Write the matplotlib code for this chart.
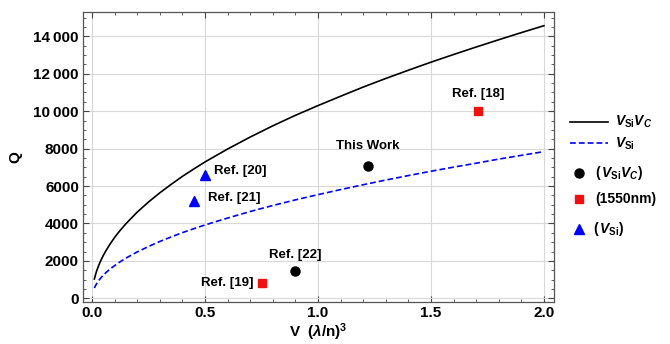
import matplotlib
matplotlib.use('Agg')
import matplotlib.pyplot as plt
from matplotlib.ticker import MultipleLocator, FuncFormatter
from matplotlib.lines import Line2D

plt.rcParams['font.family'] = ['Liberation Sans', 'DejaVu Sans']
plt.rcParams['mathtext.fontset'] = 'custom'
plt.rcParams['mathtext.rm'] = 'Liberation Sans:bold'
plt.rcParams['mathtext.it'] = 'Liberation Sans:bold:italic'
plt.rcParams['mathtext.bf'] = 'Liberation Sans:bold'

# curves
v_curve = [0.01, 0.015, 0.02, 0.03, 0.04, 0.05, 0.06, 0.08, 0.1, 0.12, 0.15,
           0.2, 0.25, 0.3, 0.35, 0.4, 0.45, 0.5, 0.6, 0.7, 0.8, 0.9, 1.0,
           1.1, 1.2, 1.3, 1.4, 1.5, 1.6, 1.7, 1.8, 1.9, 2.0]
q_si_c = [1030, 1260, 1460, 1780, 2060, 2300, 2520, 2910, 3260, 3570, 3990,
          4610, 5150, 5640, 6090, 6520, 6910, 7290, 7980, 8620, 9220, 9780, 10300,
          10800, 11290, 11750, 12190, 12620, 13030, 13430, 13820, 14200, 14570]
q_si = [550, 680, 780, 960, 1110, 1240, 1360, 1570, 1750, 1920, 2150,
        2480, 2770, 3040, 3280, 3510, 3720, 3920, 4290, 4640, 4960, 5260, 5540,
        5810, 6070, 6320, 6560, 6790, 7010, 7220, 7440, 7640, 7840]

# reported devices
circle_v = [1.22, 0.90]
circle_q = [7080, 1470]
circle_lab = ['This Work', 'Ref. [22]']
square_v = [1.71, 0.75]
square_q = [10030, 820]
square_lab = ['Ref. [18]', 'Ref. [19]']
tri_v = [0.50, 0.45]
tri_q = [6600, 5200]
tri_lab = ['Ref. [20]', 'Ref. [21]']

RED = '#f01010'
DASH = (3.5, 1.8)

fig = plt.figure(figsize=(6.7, 3.44), dpi=100)
ax = fig.add_axes([0.124, 0.122, 0.703, 0.843])

ax.plot(v_curve, q_si_c, color='black', lw=1.2)
ax.plot(v_curve, q_si, color='blue', lw=1.2, dashes=DASH)
ax.plot(circle_v, circle_q, 'o', color='black', ms=6.5, ls='none')
ax.plot(square_v, square_q, 's', color=RED, ms=6, ls='none')
ax.plot(tri_v, tri_q, '^', color='blue', ms=7, ls='none')

ann = dict(fontsize=9.5, fontweight='bold', textcoords='offset points')
ax.annotate(circle_lab[0], (circle_v[0], circle_q[0]), xytext=(0, 14.5), ha='center', va='center', **ann)
ax.annotate(circle_lab[1], (circle_v[1], circle_q[1]), xytext=(0, 11.5), ha='center', va='center', **ann)
ax.annotate(square_lab[0], (square_v[0], square_q[0]), xytext=(0, 12), ha='center', va='center', **ann)
ax.annotate(square_lab[1], (square_v[1], square_q[1]), xytext=(-5.5, 0), ha='right', va='center', **ann)
ax.annotate(tri_lab[0], (tri_v[0], tri_q[0]), xytext=(6.5, 3), ha='left', va='center', **ann)
ax.annotate(tri_lab[1], (tri_v[1], tri_q[1]), xytext=(10, 2), ha='left', va='center', **ann)

ax.set_xlim(-0.04, 2.045)
ax.set_ylim(-200, 15300)
ax.xaxis.set_major_locator(MultipleLocator(0.5))
ax.xaxis.set_minor_locator(MultipleLocator(0.1))
ax.yaxis.set_major_locator(MultipleLocator(2000))
ax.yaxis.set_minor_locator(MultipleLocator(500))
ax.yaxis.set_major_formatter(FuncFormatter(
    lambda v, p: f'{int(v):,}'.replace(',', '\u2009') if v >= 10000 else f'{int(v)}'))
ax.tick_params(which='both', direction='in', top=True, right=True, color='#444444')
ax.tick_params(which='major', length=4, width=0.8, labelsize=11, pad=3)
ax.tick_params(which='minor', length=2, width=0.6)
for t in ax.get_xticklabels() + ax.get_yticklabels():
    t.set_fontweight('bold')
for s in ax.spines.values():
    s.set_color('#555555')
    s.set_linewidth(0.9)
ax.grid(True, which='major', color='#d8d8d8', lw=0.8)
ax.set_axisbelow(True)

ax.set_ylabel('Q', fontsize=11, fontweight='bold')
ax.yaxis.set_label_coords(-0.128, 0.5)
ax.set_xlabel(r'V  ($\lambda$/n)$^3$', fontsize=11, fontweight='bold')
ax.xaxis.set_label_coords(0.5, -0.066)

# legend drawn by hand in figure pixels (from top-left)
W, H = 670.0, 344.0


def fx(px):
    return px / W


def fy(py):
    return 1 - py / H


leg_txt = dict(fontsize=10, fontweight='bold', va='center', ha='left')
fig.add_artist(Line2D([fx(570), fx(608)], [fy(122), fy(122)], color='black', lw=1.2))
fig.text(fx(615), fy(122), r'$V_{\rm Si}V_C$', **leg_txt)
fig.add_artist(Line2D([fx(570), fx(608)], [fy(143), fy(143)], color='blue', lw=1.2, dashes=DASH))
fig.text(fx(615), fy(144), r'$V_{\rm Si}$', **leg_txt)
fig.add_artist(Line2D([fx(579)], [fy(173)], marker='o', color='black', ms=6.5, ls='none'))
fig.text(fx(595), fy(173), r'(${\,}V_{\rm Si}V_C$)', **leg_txt)
fig.add_artist(Line2D([fx(579)], [fy(199)], marker='s', color=RED, ms=6, ls='none'))
fig.text(fx(595), fy(199), '(1550nm)', **leg_txt)
fig.add_artist(Line2D([fx(579)], [fy(229)], marker='^', color='blue', ms=7, ls='none'))
fig.text(fx(593), fy(229), r'(${\,}V_{\rm Si}$)', **leg_txt)

fig.savefig('out.png', dpi=100)
